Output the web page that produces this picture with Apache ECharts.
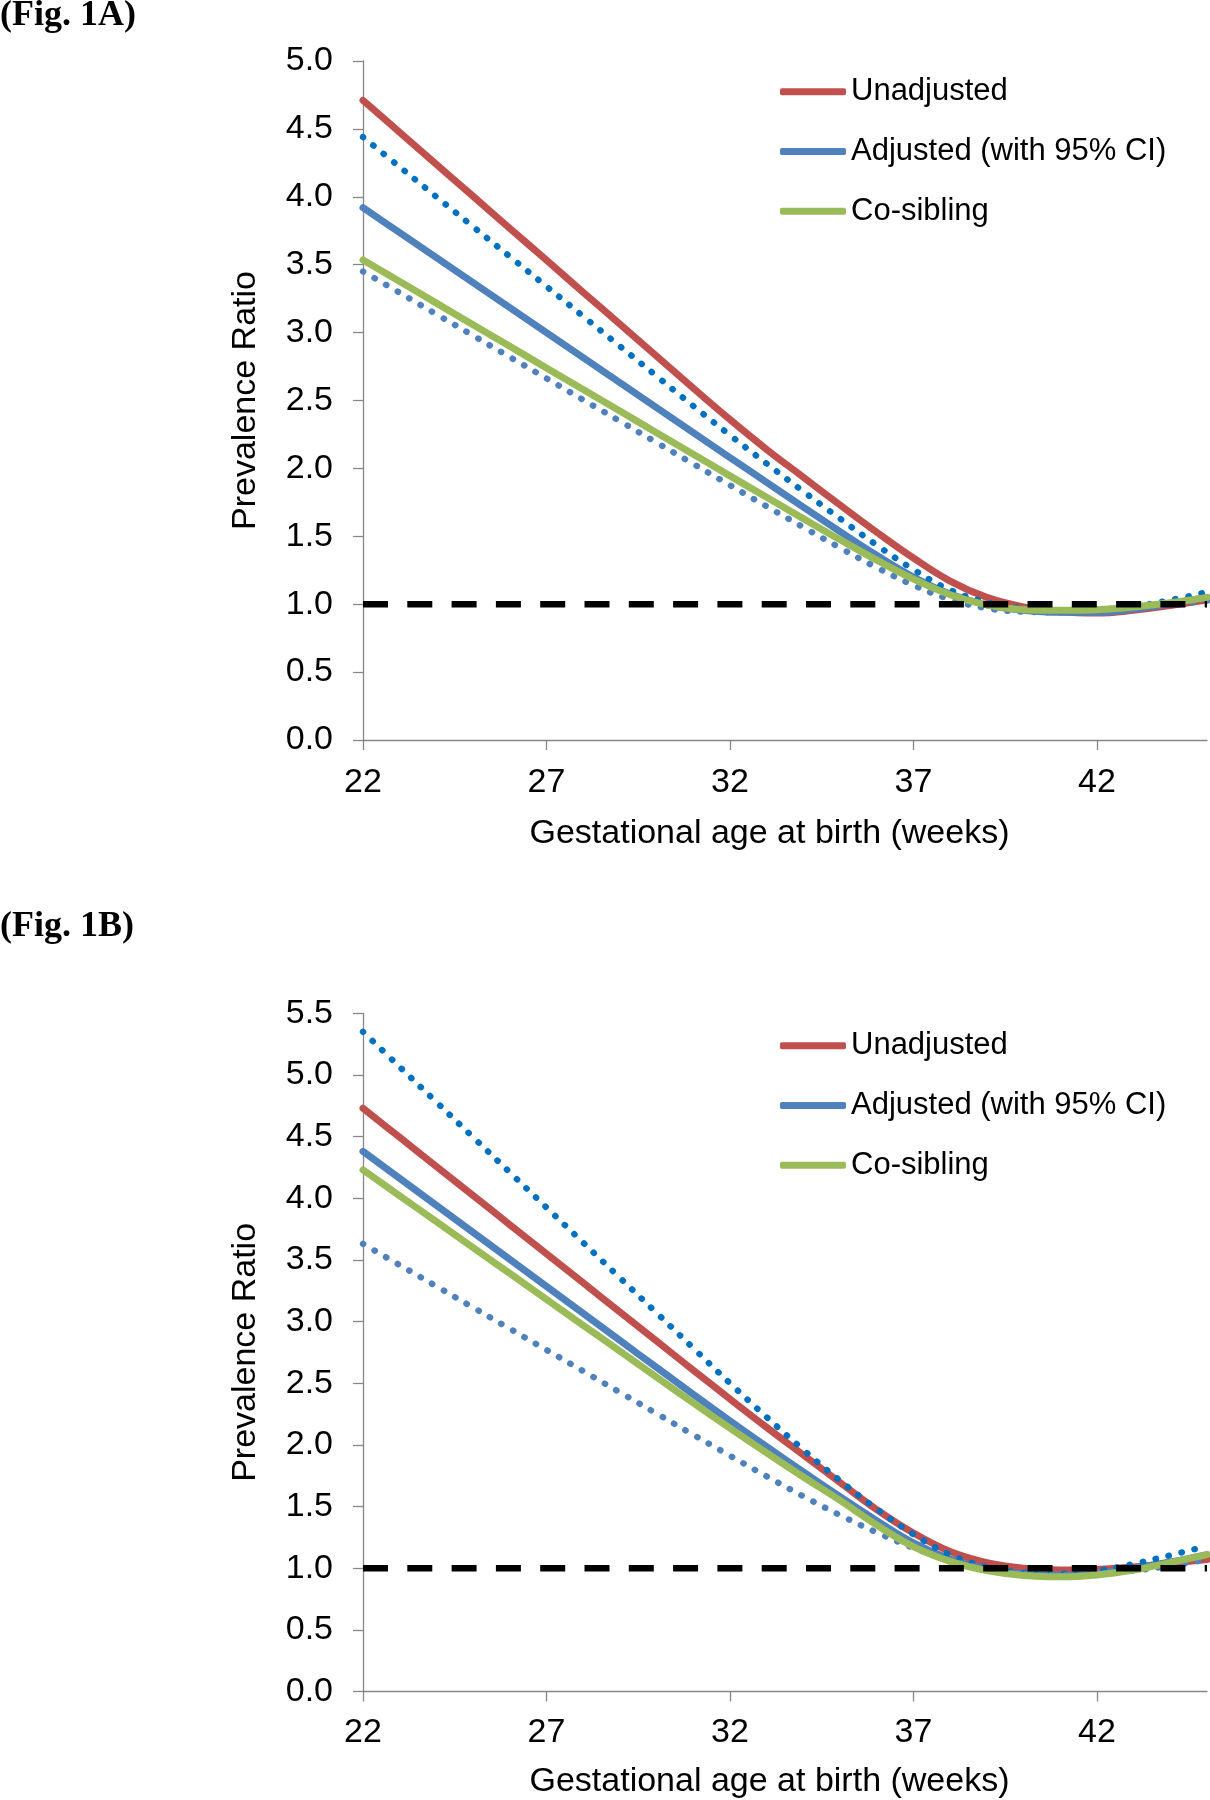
<!DOCTYPE html>
<html>
<head>
<meta charset="utf-8">
<script src="https://cdn.jsdelivr.net/npm/echarts@6/dist/echarts.min.js"></script>
<style>
html,body{margin:0;padding:0;background:#fff;}
#chart{width:1210px;height:1800px;}
</style>
</head>
<body>
<div id="chart"></div>
<script>
// ---- data ----
const WEEKS = [22,23,24,25,26,27,28,29,30,31,32,33,34,35,36,37,38,39,40,41,42,43,44,45];
const X_TICKS = [22,27,32,37,42];
const REF_VALUE = 1.0;

// Fig. 1A
const A_UNADJ = [4.710,4.475,4.239,4.004,3.768,3.533,3.297,3.062,2.826,2.591,2.360,2.140,1.935,1.730,1.530,1.340,1.170,1.050,0.980,0.945,0.935,0.955,0.990,1.030];
const A_ADJ   = [3.920,3.736,3.552,3.368,3.184,3.000,2.816,2.632,2.448,2.264,2.080,1.897,1.715,1.535,1.360,1.200,1.075,0.995,0.955,0.940,0.940,0.965,1.005,1.050];
const A_UCI   = [4.440,4.220,4.000,3.780,3.560,3.340,3.120,2.900,2.680,2.460,2.245,2.035,1.830,1.630,1.435,1.255,1.105,1.015,0.970,0.955,0.960,0.985,1.030,1.090];
const A_LCI   = [3.450,3.293,3.135,2.978,2.820,2.663,2.505,2.348,2.190,2.033,1.876,1.720,1.566,1.415,1.270,1.140,1.035,0.970,0.945,0.940,0.945,0.965,0.995,1.025];
const A_SIB   = [3.535,3.376,3.217,3.058,2.899,2.740,2.581,2.422,2.263,2.104,1.945,1.787,1.630,1.475,1.325,1.185,1.070,0.995,0.960,0.955,0.960,0.980,1.010,1.050];

// Fig. 1B
const B_UNADJ = [4.730,4.494,4.258,4.022,3.786,3.550,3.314,3.078,2.842,2.606,2.372,2.142,1.918,1.695,1.475,1.285,1.135,1.045,1.000,0.985,0.990,1.010,1.040,1.070];
const B_ADJ   = [4.380,4.161,3.942,3.723,3.504,3.285,3.066,2.847,2.628,2.410,2.195,1.985,1.780,1.580,1.385,1.205,1.075,0.995,0.955,0.945,0.960,1.000,1.050,1.110];
const B_UCI   = [5.350,5.065,4.780,4.495,4.210,3.925,3.640,3.355,3.070,2.785,2.500,2.225,1.960,1.710,1.480,1.275,1.110,1.010,0.965,0.955,0.980,1.035,1.105,1.180];
const B_LCI   = [3.630,3.458,3.286,3.114,2.942,2.770,2.598,2.426,2.254,2.082,1.912,1.745,1.583,1.430,1.290,1.165,1.065,0.995,0.955,0.945,0.955,0.980,1.020,1.070];
const B_SIB   = [4.230,4.020,3.810,3.600,3.390,3.180,2.970,2.760,2.550,2.340,2.135,1.935,1.740,1.550,1.350,1.175,1.055,0.980,0.940,0.930,0.945,0.985,1.045,1.110];

const PANEL_TITLES = ['(Fig. 1A)', '(Fig. 1B)'];
const LEGEND_NAMES = ['Unadjusted', 'Adjusted (with 95% CI)', 'Co-sibling'];
const Y_MAX = [5.0, 5.5];
const X_NAME = 'Gestational age at birth (weeks)';
const Y_NAME = 'Prevalence Ratio';

// ---- styling ----
const C_RED = '#C0504D', C_BLUE = '#4F81BD', C_GREEN = '#9BBB59', C_UCI = '#0070C0', C_LCI = '#4F81BD';
const SANS = '"Liberation Sans", Arial, Helvetica, sans-serif';
const SERIF = '"Liberation Serif", "Times New Roman", serif';

function pts(vals){ return WEEKS.map((w,i)=>[w, vals[i]]); }

function solid(name, vals, color, idx){
  return { type:'line', name, xAxisIndex:idx, yAxisIndex:idx, data:pts(vals), color,
    showSymbol:false, symbol:'none', smooth:0.4, silent:true,
    lineStyle:{color, width:7, cap:'round', join:'round'} };
}
function dotted(name, vals, color, idx){
  return { type:'line', name, xAxisIndex:idx, yAxisIndex:idx, data:pts(vals), color,
    showSymbol:false, symbol:'none', smooth:0.4, silent:true,
    lineStyle:{color, width:6.3, type:[0.5, 12.8], cap:'round'} };
}
function refLine(idx){
  return { type:'line', name:'ref'+idx, xAxisIndex:idx, yAxisIndex:idx, z:10,
    data:[[WEEKS[0], REF_VALUE],[WEEKS[WEEKS.length-1], REF_VALUE]],
    showSymbol:false, symbol:'none', silent:true,
    lineStyle:{color:'#000', width:6.5, type:[25, 19.3], cap:'butt'} };
}

const grids = [
  {left:363, top:61, width:844, height:679},
  {left:363, top:1013.3, width:844, height:678.2}
];

const axisCommon = {
  axisLine:{show:true, lineStyle:{color:'#878787', width:1.3}},
  axisTick:{show:true, length:10, lineStyle:{color:'#878787', width:1.3}},
  splitLine:{show:false}
};

const xAxes = grids.map((g,i)=>({
  type:'value', gridIndex:i, min:WEEKS[0], max:WEEKS[WEEKS.length-1],
  ...axisCommon,
  axisTick:{...axisCommon.axisTick, customValues:X_TICKS},
  axisLabel:{customValues:X_TICKS, margin: i===0 ? 25.5 : 24, fontSize:34, color:'#000', fontFamily:SANS},
  name:X_NAME, nameLocation:'middle', nameGap: i===0 ? 76.5 : 73.5,
  nameTextStyle:{fontSize:34, color:'#000', fontFamily:SANS, padding:[0,31,0,0]}
}));

const yAxes = grids.map((g,i)=>({
  type:'value', gridIndex:i, min:0, max:Y_MAX[i], interval:0.5,
  ...axisCommon,
  axisLabel:{margin:30, fontSize:34, color:'#000', fontFamily:SANS, formatter:v=>v.toFixed(1), padding:[0,0,3,0]},
  name:Y_NAME, nameLocation:'middle', nameGap:100, nameRotate:90,
  nameTextStyle:{fontSize:34, color:'#000', fontFamily:SANS}
}));

const series = [];
[[A_UNADJ,A_ADJ,A_UCI,A_LCI,A_SIB],[B_UNADJ,B_ADJ,B_UCI,B_LCI,B_SIB]].forEach((set,i)=>{
  series.push(solid(LEGEND_NAMES[0], set[0], C_RED, i));
  series.push(solid(LEGEND_NAMES[1], set[1], C_BLUE, i));
  series.push(dotted('Adjusted upper 95% CI', set[2], C_UCI, i));
  series.push(dotted('Adjusted lower 95% CI', set[3], C_LCI, i));
  series.push(solid(LEGEND_NAMES[2], set[4], C_GREEN, i));
  series.push(refLine(i));
});

const legendTops = [74.8, 1028.8];
const legends = legendTops.map(t=>({
  data:LEGEND_NAMES, orient:'vertical', left:780, top:t,
  itemWidth:66, itemHeight:7, itemGap:25.7, icon:'roundRect',
  selectedMode:false, padding:0,
  textStyle:{fontSize:31, lineHeight:34, color:'#000', fontFamily:SANS}
}));

const titles = [
  {text:PANEL_TITLES[0], left:0, top:-2, padding:0,
   textStyle:{fontFamily:SERIF, fontWeight:'bold', fontSize:36, color:'#000'}},
  {text:PANEL_TITLES[1], left:0, top:908.5, padding:0,
   textStyle:{fontFamily:SERIF, fontWeight:'bold', fontSize:36, color:'#000'}}
];

const chart = echarts.init(document.getElementById('chart'), null, {renderer:'canvas'});
chart.setOption({
  backgroundColor:'#fff',
  animation:false,
  title:titles,
  legend:legends,
  grid:grids,
  xAxis:xAxes,
  yAxis:yAxes,
  series
});
</script>
</body>
</html>
